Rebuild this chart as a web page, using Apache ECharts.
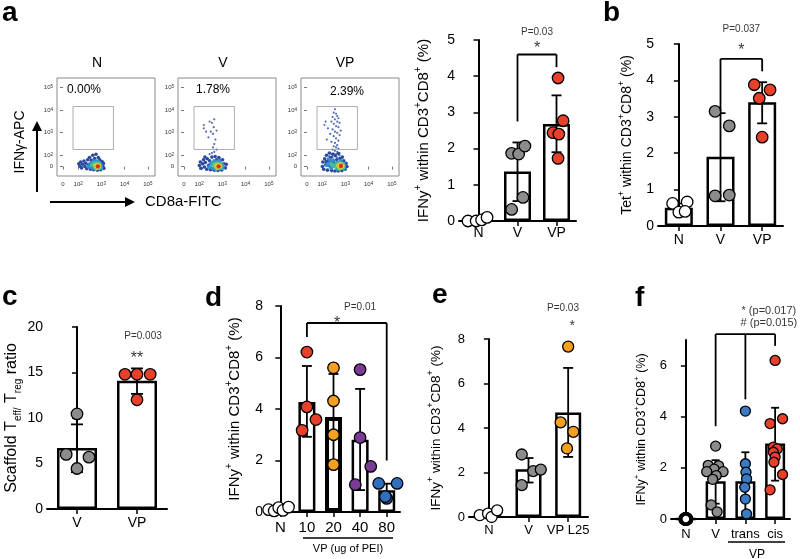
<!DOCTYPE html>
<html><head><meta charset="utf-8">
<script src="https://cdn.jsdelivr.net/npm/echarts@6/dist/echarts.min.js"></script>
<style>html,body{margin:0;padding:0;background:#fff}#chart{width:800px;height:559px}</style>
</head><body><div id="chart"></div>
<script>
const FONT = "'Liberation Sans', Arial, Helvetica, sans-serif";

// ---------------- DATA ----------------
// Panel a (flow): tick positions (transformed log-like scale) and labels
const flowXTicks = [0, 0.65, 1.65, 2.65, 3.65];
const flowYTicks = [0, 0.52, 1.52, 2.52, 3.52];
const flowTickLabels = ['0', '10{s|2}', '10{s|3}', '10{s|4}', '10{s|5}'];
const flowTitles = ['N', 'V', 'VP'];
const flowPct = ['0.00%', '1.78%', '2.39%'];
const flowGate = [0.43, 0.76, 2.17, 2.67]; // x1, y1, x2, y2
// [x, y, densityLevel]
const flowNBlob = [
 [0.68,0.12,0],[0.72,0.02,0],[0.76,0.2,0],[0.8,-0.06,0],[0.84,0.1,0],[0.9,0.25,0],[0.94,0.0,0],[0.98,0.15,0],[1.02,-0.1,0],[1.06,0.3,0],[1.1,0.08,0],[1.14,0.4,0],[1.18,-0.12,0],[1.22,0.28,0],[1.28,0.5,0],[1.32,-0.14,0],[1.36,0.36,0],[1.42,0.55,0],[1.48,-0.16,0],[1.52,0.4,0],[1.58,0.3,0],[1.62,-0.14,0],[1.68,0.22,0],[1.72,0.0,0],[1.76,-0.08,0],[1.74,0.14,0],
 [1.1,0.0,1],[1.18,0.14,1],[1.24,-0.04,1],[1.3,0.2,1],[1.4,0.24,1],[1.5,0.22,1],[1.62,0.08,1],[1.64,-0.04,1],[1.36,-0.08,1],
 [1.26,0.08,2],[1.34,0.12,2],[1.44,0.14,2],[1.56,0.12,2],[1.58,-0.06,2],[1.42,-0.08,2],
 [1.38,0.04,3],[1.48,0.08,3],[1.56,0.02,3],[1.46,-0.06,3],
 [1.46,0.02,4],[1.53,0.03,4],
 [1.5,0.01,5]
];
const flowVBlob = [
 [0.66,0.05,0],[0.7,0.2,0],[0.74,-0.08,0],[0.8,0.12,0],[0.84,0.3,0],[0.88,-0.02,0],[0.92,0.18,0],[0.98,-0.12,0],[1.0,0.35,0],[1.06,0.06,0],[1.1,0.26,0],[1.14,-0.14,0],[1.2,0.42,0],[1.24,0.16,0],[1.3,-0.16,0],[1.34,0.45,0],[1.4,0.3,0],[1.46,-0.17,0],[1.5,0.4,0],[1.56,0.28,0],[1.62,-0.15,0],[1.66,0.3,0],[1.72,0.12,0],[1.78,-0.06,0],[1.82,0.1,0],[0.9,0.42,0],
 [1.08,-0.02,1],[1.16,0.14,1],[1.22,-0.06,1],[1.3,0.24,1],[1.38,0.22,1],[1.52,0.24,1],[1.64,0.1,1],[1.66,-0.06,1],[1.34,-0.1,1],
 [1.24,0.06,2],[1.32,0.12,2],[1.42,0.14,2],[1.56,0.12,2],[1.58,-0.06,2],[1.4,-0.08,2],
 [1.36,0.04,3],[1.46,0.08,3],[1.56,0.02,3],[1.44,-0.06,3],
 [1.45,0.02,4],[1.52,0.03,4],
 [1.49,0.01,5]
];
const flowVPBlob = [
 [0.66,0.0,0],[0.68,0.2,0],[0.72,-0.12,0],[0.76,0.35,0],[0.8,0.08,0],[0.84,0.5,0],[0.88,-0.16,0],[0.9,0.25,0],[0.96,0.6,0],[0.98,0.02,0],[1.02,0.4,0],[1.06,-0.18,0],[1.1,0.55,0],[1.14,0.2,0],[1.2,-0.2,0],[1.22,0.48,0],[1.28,0.3,0],[1.34,-0.2,0],[1.36,0.58,0],[1.42,0.36,0],[1.5,-0.18,0],[1.52,0.42,0],[1.58,0.26,0],[1.64,-0.12,0],[1.68,0.14,0],[1.72,0.0,0],[0.82,0.22,0],[1.0,0.22,0],
 [0.86,0.06,1],[0.94,0.14,1],[1.04,-0.06,1],[1.12,0.28,1],[1.2,0.08,1],[1.3,0.18,1],[1.46,0.24,1],[1.6,0.06,1],[1.3,-0.1,1],[1.0,0.3,1],
 [1.16,0.02,2],[1.26,0.1,2],[1.38,0.14,2],[1.52,0.1,2],[1.56,-0.06,2],[1.36,-0.08,2],[1.06,0.1,2],
 [1.34,0.04,3],[1.44,0.1,3],[1.54,0.02,3],[1.42,-0.06,3],
 [1.42,0.03,4],[1.5,0.02,4],
 [1.46,0.03,5]
];
const flowNGated = [];
const flowVGated = [[0.85,1.85],[0.85,1.7],[1.1,2.0],[1.2,1.95],[1.3,2.1],[1.15,1.55],[1.25,1.45],[1.05,1.3],[1.35,1.2],[1.3,1.0],[1.25,0.85],[1.4,0.75],[1.3,0.65],[1.2,0.6],[1.1,0.55],[0.95,1.55],[1.4,1.6],[1.28,1.75]];
const flowVPGated = [[1.2,2.55],[1.15,2.4],[1.25,2.35],[1.3,2.25],[1.1,2.2],[1.35,2.15],[1.2,2.1],[1.05,2.0],[1.3,2.0],[1.4,1.95],[0.8,2.0],[0.75,1.85],[1.15,1.9],[1.25,1.8],[1.35,1.75],[0.9,1.7],[1.1,1.65],[1.45,1.6],[1.2,1.55],[1.3,1.5],[1.0,1.45],[1.4,1.4],[1.15,1.35],[1.25,1.25],[0.85,1.2],[1.35,1.15],[1.05,1.1],[1.2,1.05],[1.3,0.95],[1.15,0.9],[1.25,0.85],[1.35,0.8],[1.1,0.75],[1.2,0.7],[1.3,0.65],[1.0,0.6],[1.15,0.58],[1.25,0.55],[1.4,0.5],[0.95,0.45],[1.1,0.42],[0.9,0.35],[1.3,0.4]];

// Panel a (bars)
const aCats = ['N', 'V', 'VP'];
const aMeans = [0.03, 1.37, 2.68];
const aErrLow = [0, 0.55, 1.9];
const aErrHigh = [0.06, 2.17, 3.47];
const aPtsN = [[-0.27,0],[-0.06,0],[0.08,0.03],[0.22,0.1]];
const aPtsV = [[-0.15,1.87],[0.03,1.85],[0.19,2.07],[0.14,0.65],[-0.15,0.32]];
const aPtsVP = [[0.04,3.95],[0.17,2.77],[-0.09,2.44],[0.06,2.4],[0.04,1.73]];
const aBracket = [[1,2.75,1,4.6],[1,4.6,2,4.6],[2,4.6,2,4.25]];
const aNotes = [{x:1.5,y:5.22,t:'P=0.03',s:10},{x:1.5,y:4.75,t:'*',s:16}];

// Panel b
const bCats = ['N', 'V', 'VP'];
const bMeans = [0.5, 1.9, 3.4];
const bErrLow = [0.38, 0.68, 2.82];
const bErrHigh = [0.62, 3.1, 3.95];
const bPtsN = [[-0.15,0.62],[0.2,0.66],[0.0,0.38],[0.15,0.4]];
const bPtsV = [[-0.13,3.15],[0.21,2.75],[-0.13,0.83],[0.21,0.85]];
const bPtsVP = [[-0.19,3.88],[0.19,3.74],[-0.07,3.51],[0.0,2.44]];
const bBracket = [[1,3.15,1,4.59],[1,4.59,2,4.59],[2,4.59,2,4.25]];
const bNotes = [{x:1.5,y:5.41,t:'P=0.037',s:10},{x:1.5,y:4.83,t:'*',s:16}];

// Panel c
const cCats = ['V', 'VP'];
const cMeans = [6.7, 14.1];
const cErrLow = [4.05, 12.65];
const cErrHigh = [9.3, 15.45];
const cPtsV = [[-0.18,6.0],[0.2,5.7],[0,4.45],[0,10.45]];
const cPtsVP = [[-0.2,14.8],[0,14.8],[0.22,14.8],[0,12.0]];
const cNotes = [{x:1.1,y:19.0,t:'P=0.003',s:10},{x:1.0,y:16.5,t:'**',s:16}];

// Panel d
const dCats = ['N', '10', '20', '40', '80'];
const dMeans = [0.05, 4.27, 3.69, 2.81, 0.84];
const dErrLow = [0, 2.92, 2.0, 0.85, 0.55];
const dErrHigh = [0.12, 5.67, 5.36, 4.78, 1.1];
const dPtsN = [[-0.44,0.09],[-0.23,0.04],[-0.06,0.17],[0.1,0.06],[0.31,0.19]];
const dPts10 = [[0,6.21],[0,4.08],[0.34,3.59],[-0.18,3.17]];
const dPts20 = [[0,5.6],[0,4.31],[0,3.0],[0,1.84]];
const dPts40 = [[0,5.53],[0,2.89],[0.4,1.77],[-0.18,1.06]];
const dPts80 = [[-0.3,1.11],[0.39,1.11],[0,0.53],[-0.05,0.6]];
const dBracket = [[1,6.8,1,7.34],[1,7.34,4,7.34],[4,7.34,4,2.0]];
const dNotes = [{x:2.14,y:7.3,t:'*',s:16},{x:3.0,y:7.95,t:'P=0.01',s:10}];

// Panel e
const eCats = ['N', 'V', 'VP L25'];
const eMeans = [0.05, 2.15, 4.7];
const eErrLow = [0, 1.55, 2.7];
const eErrHigh = [0.2, 2.65, 6.7];
const ePtsN = [[-0.23,0.08],[-0.02,0.15],[0.07,0],[0.21,0.3]];
const ePtsV = [[-0.17,2.81],[-0.17,1.43],[0.12,2.06],[0.31,2.13]];
const ePtsVP = [[0,7.66],[-0.19,4.25],[0.13,3.83],[-0.03,3.08]];
const eNotes = [{x:1.87,y:9.4,t:'P=0.03',s:10},{x:2.1,y:8.6,t:'*',s:14}];

// Panel f
const fCats = ['N', 'V', 'trans', 'cis'];
const fMeans = [0.0, 1.48, 1.48, 2.95];
const fErrLow = [0, 0.6, 0.3, 1.5];
const fErrHigh = [0, 2.3, 2.61, 4.35];
const fPtsN = [[-0.03,0],[-0.015,0],[0,0],[0.015,0],[0.03,0],[-0.01,0],[0.01,0],[0,0]];
const fPtsV = [[0,2.85],[-0.25,2.1],[0.1,2.08],[-0.05,1.95],[-0.3,1.85],[0.25,1.85],[0.02,1.7],[-0.1,1.55],[-0.15,0.55],[0.05,0.28]];
const fPtsTrans = [[0,4.22],[0,2.16],[0.02,1.83],[0.04,1.57],[-0.02,1.24],[0,0.78],[0.04,0.2]];
const fPtsCis = [[0,6.2],[-0.17,3.73],[0.25,3.92],[-0.06,2.81],[0.07,2.74],[-0.06,2.61],[0,2.42],[-0.04,2.22],[0.25,1.74],[-0.17,1.14]];
const fBracket = [[1,3.63,1,7.23],[1,7.23,3,7.23],[2,4.68,2,7.23],[3,6.77,3,7.23]];
const fNotes = [{x:2.79,y:8.13,t:'* (p=0.017)',s:11},{x:2.79,y:7.66,t:'# (p=0.015)',s:11}];

// ---------------- STYLE ----------------
const C = {white:'#ffffff', grey:'#8c8c8c', red:'#e8402a', orange:'#f5a01f', purple:'#7a3b97', blue:'#3a7cc4', blue2:'#2f6fbf'};
const flowColors = ['#2a4aa0','#3b8bd0','#3fbf9a','#a6d33b','#f2d51f','#e8281c'];
const flowSizes = [3.6, 4.2, 4.6, 4.6, 4.6, 4.4];

const grid = [], xAxis = [], yAxis = [], series = [];

function segSeries(xi, yi, segs, lw, color) {
  return {type:'custom', xAxisIndex:xi, yAxisIndex:yi, z:5, silent:true, clip:false,
    data: segs,
    renderItem:(p, api) => {
      const a = api.coord([api.value(0), api.value(1)]);
      const b = api.coord([api.value(2), api.value(3)]);
      return {type:'line', shape:{x1:a[0], y1:a[1], x2:b[0], y2:b[1]}, style:{stroke:color || '#000', lineWidth:lw}};
    }};
}
function notesSeries(xi, yi, notes) {
  return {type:'scatter', xAxisIndex:xi, yAxisIndex:yi, z:6, silent:true, clip:false, symbolSize:1,
    itemStyle:{color:'transparent'},
    data: notes.map(n => ({value:[n.x, n.y], name:n.t, label:{fontSize:n.s}})),
    label:{show:true, position:'inside', formatter:'{b}', color:'#000', fontFamily:FONT}};
}

function barPanel(p) {
  const gi = grid.length;
  grid.push({left:p.left, top:p.top, width:p.width, height:p.height, containLabel:false, outerBoundsMode:'none'});
  const xc = xAxis.length;
  xAxis.push({type:'category', gridIndex:gi, data:p.cats,
    axisLine:{show:true, lineStyle:{color:'#000', width:2}},
    axisTick:{show:true, alignWithLabel:true, length:5, lineStyle:{color:'#000', width:1.5}},
    axisLabel:{fontFamily:FONT, fontSize:p.xFont, color:'#000', margin:p.xMargin, interval:0}});
  const xv = xAxis.length;
  xAxis.push({type:'value', gridIndex:gi, min:-0.5, max:p.cats.length - 0.5, show:false});
  const yi = yAxis.length;
  const yax = {type:'value', gridIndex:gi, min:0, max:p.ymax, interval:p.yint,
    name:p.yname, nameLocation:'middle', nameGap:p.nameGap, nameRotate:90,
    nameTextStyle:{fontFamily:FONT, fontSize:p.nameFont, color:'#000', lineHeight:p.nameFont + 6,
      rich:{sup:{fontSize:Math.round(p.nameFont*0.65), fontFamily:FONT, color:'#000', verticalAlign:'top'},
            sub:{fontSize:Math.round(p.nameFont*0.65), fontFamily:FONT, color:'#000', verticalAlign:'bottom'}}},
    splitLine:{show:false},
    axisLine:{show:true, lineStyle:{color:'#000', width:2}},
    axisTick:{show:true, length:5, lineStyle:{color:'#000', width:1.5}},
    axisLabel:{fontFamily:FONT, fontSize:p.yFont, color:'#000', margin:4}};
  if (p.yTicks) { yax.axisTick.customValues = p.yTicks; yax.axisLabel.customValues = p.yTicks; }
  yAxis.push(yax);
  series.push({type:'bar', xAxisIndex:xc, yAxisIndex:yi, barWidth:p.barWidth, z:2, silent:true,
    itemStyle:{color:'#fff', borderColor:'#000', borderWidth:2.5},
    data:p.means.map((v, i) => ({value:v, itemStyle:{borderWidth: p.boldIndex === i ? 4 : 2.5}}))});
  series.push({type:'custom', xAxisIndex:xv, yAxisIndex:yi, z:3, silent:true, clip:false,
    data:p.lo.map((l, i) => [i, l, p.hi[i]]),
    renderItem:(prm, api) => {
      const x = api.value(0);
      const a = api.coord([x, api.value(1)]), b = api.coord([x, api.value(2)]);
      const cap = p.cap;
      return {type:'group', children:[
        {type:'line', shape:{x1:a[0], y1:a[1], x2:b[0], y2:b[1]}, style:{stroke:'#000', lineWidth:1.8}},
        {type:'line', shape:{x1:b[0]-cap, y1:b[1], x2:b[0]+cap, y2:b[1]}, style:{stroke:'#000', lineWidth:1.8}},
        {type:'line', shape:{x1:a[0]-cap, y1:a[1], x2:a[0]+cap, y2:a[1]}, style:{stroke:'#000', lineWidth:1.8}}]};
    }});
  p.groups.forEach((g, i) => {
    series.push({type:'scatter', xAxisIndex:xv, yAxisIndex:yi, z:4, silent:true, clip:false,
      symbolSize:g.size || p.sym, itemStyle:{color:g.color, borderColor:'#000', borderWidth:g.bw || 1.3, opacity:1},
      data:g.pts.map(q => [i + q[0], q[1]])});
  });
  if (p.bracket) series.push(segSeries(xv, yi, p.bracket, 1.8));
  if (p.notes) series.push(notesSeries(xv, yi, p.notes));
}

function flowPanel(left, blob, gated) {
  const gi = grid.length;
  grid.push({left:left, top:78, width:98, height:98, show:true, borderColor:'#8a8a8a', borderWidth:1,
    backgroundColor:'transparent', containLabel:false, outerBoundsMode:'none'});
  const mk = (ticks, isX) => ({
    type:'value', gridIndex:gi, min: isX ? -0.26 : -0.42, max: isX ? 3.96 : 3.94,
    splitLine:{show:false}, axisLine:{show:false},
    axisTick:{show:true, length:3, customValues:ticks, lineStyle:{color:'#777', width:1}},
    axisLabel:{show:true, customValues:ticks, fontFamily:FONT, fontSize:6, color:'#333', margin:isX ? 5 : 4,
      formatter:(v) => { let bi = 0; ticks.forEach((t, k) => { if (Math.abs(t - v) < Math.abs(ticks[bi] - v)) bi = k; }); return flowTickLabels[bi]; },
      rich:{s:{fontSize:4.5, fontFamily:FONT, color:'#333', verticalAlign:'top'}}}
  });
  const xi = xAxis.length; xAxis.push(mk(flowXTicks, true));
  const yi = yAxis.length; yAxis.push(mk(flowYTicks, false));
  for (let lv = 0; lv < flowColors.length; lv++) {
    series.push({type:'scatter', xAxisIndex:xi, yAxisIndex:yi, z:3 + lv * 0.1, silent:true,
      symbolSize:flowSizes[lv], itemStyle:{color:flowColors[lv], opacity:1},
      data: blob.filter(q => q[2] === lv).map(q => [q[0], q[1]])});
  }
  series.push({type:'scatter', xAxisIndex:xi, yAxisIndex:yi, z:3, silent:true, symbolSize:2.2,
    itemStyle:{color:flowColors[0]}, data:gated});
  const g = flowGate;
  series.push(segSeries(xi, yi, [[g[0],g[1],g[2],g[1]],[g[2],g[1],g[2],g[3]],[g[2],g[3],g[0],g[3]],[g[0],g[3],g[0],g[1]]], 0.8, '#9a9a9a'));
}

flowPanel(57, flowNBlob, flowNGated);
flowPanel(178, flowVBlob, flowVGated);
flowPanel(301, flowVPBlob, flowVPGated);

const IFN = 'IFNy{sup|+} within CD3{sup|+}CD8{sup|+} (%)';
barPanel({left:459, top:40, width:117, height:181, cats:aCats, means:aMeans, lo:aErrLow, hi:aErrHigh,
  ymax:5, yint:1, yname:IFN, nameGap:25, nameFont:15, yFont:14, xFont:14, xMargin:5, barWidth:27, cap:5, sym:11.5,
  groups:[{color:C.white, pts:aPtsN},{color:C.grey, pts:aPtsV},{color:C.red, pts:aPtsVP}], bracket:aBracket, notes:aNotes});
barPanel({left:658, top:44, width:125, height:182, cats:bCats, means:bMeans, lo:bErrLow, hi:bErrHigh,
  ymax:5, yint:1, yname:'Tet{sup|+} within CD3{sup|+}CD8{sup|+} (%)', nameGap:21, nameFont:14, yFont:14, xFont:14, xMargin:7, barWidth:28, cap:5, sym:11.5,
  groups:[{color:C.white, pts:bPtsN},{color:C.grey, pts:bPtsV},{color:C.red, pts:bPtsVP}], bracket:bBracket, notes:bNotes});
barPanel({left:47, top:327, width:120, height:182, cats:cCats, means:cMeans, lo:cErrLow, hi:cErrHigh,
  ymax:20, yint:5, yname:'Scaffold T{sub|eff/} T{sub|reg} ratio', nameGap:24, nameFont:16, yFont:14, xFont:14, xMargin:7, barWidth:40, cap:6, sym:11.5,
  groups:[{color:C.grey, pts:cPtsV},{color:C.red, pts:cPtsVP}], notes:cNotes});
barPanel({left:267, top:306, width:133, height:206, cats:dCats, means:dMeans, lo:dErrLow, hi:dErrHigh,
  ymax:8, yint:2, yname:IFN, nameGap:22, nameFont:15, yFont:14, xFont:15, xMargin:8, barWidth:17, cap:5, sym:11.5, boldIndex:2,
  groups:[{color:C.white, pts:dPtsN},{color:C.red, pts:dPts10},{color:C.orange, pts:dPts20},{color:C.purple, pts:dPts40},{color:C.blue2, pts:dPts80}], bracket:dBracket, notes:dNotes});
barPanel({left:469, top:339, width:119, height:178, cats:eCats, means:eMeans, lo:eErrLow, hi:eErrHigh,
  ymax:8, yint:2, yname:IFN, nameGap:23, nameFont:13.5, yFont:13, xFont:13, xMargin:7, barWidth:26, cap:5, sym:11,
  groups:[{color:C.white, pts:ePtsN},{color:C.grey, pts:ePtsV},{color:C.orange, pts:ePtsVP}], notes:eNotes});
barPanel({left:671, top:340, width:119, height:179, cats:fCats, means:fMeans, lo:fErrLow, hi:fErrHigh,
  ymax:7, yint:1, yTicks:[0,2,4,6], yname:IFN, nameGap:20, nameFont:12.5, yFont:13, xFont:13, xMargin:9, barWidth:20, cap:4, sym:10,
  groups:[{color:C.white, pts:fPtsN, size:10, bw:3.5},{color:C.grey, pts:fPtsV},{color:C.blue, pts:fPtsTrans},{color:C.red, pts:fPtsCis}], bracket:fBracket, notes:fNotes});

const T = (x, y, text, size, opts) => Object.assign({type:'text', x:x, y:y, silent:true,
  style:Object.assign({text:text, fill:'#000', font:size + 'px ' + FONT, textAlign:'center', textVerticalAlign:'middle', align:'center', verticalAlign:'middle'}, opts || {})});
const B = (x, y, t) => T(x, y, t, 28, {font:'bold 28px ' + FONT, textAlign:'left', align:'left'});
const graphic = [
  B(2, 13, 'a'), B(603, 13, 'b'), B(2, 297, 'c'), B(205, 298, 'd'), B(432, 295, 'e'), B(635, 298, 'f'),
  T(97, 63, flowTitles[0], 14), T(223, 63, flowTitles[1], 14), T(345, 63, flowTitles[2], 14),
  T(84, 90, flowPct[0], 12), T(213, 90, flowPct[1], 12), T(347, 92, flowPct[2], 12),
  {type:'line', silent:true, shape:{x1:37, y1:192, x2:37, y2:129}, style:{stroke:'#000', lineWidth:2}},
  {type:'polygon', silent:true, shape:{points:[[37,121],[32,131],[42,131]]}, style:{fill:'#000'}},
  {type:'line', silent:true, shape:{x1:50, y1:202, x2:127, y2:202}, style:{stroke:'#000', lineWidth:2}},
  {type:'polygon', silent:true, shape:{points:[[135,202],[125,197],[125,207]]}, style:{fill:'#000'}},
  Object.assign(T(0, 0, 'IFNγ-APC', 14), {x:20, y:142, rotation:Math.PI/2}),
  T(145, 202, 'CD8a-FITC', 15, {textAlign:'left', align:'left'}),
  {type:'line', silent:true, shape:{x1:303, y1:538, x2:393, y2:538}, style:{stroke:'#000', lineWidth:1.5}},
  T(348, 549, 'VP (ug of PEI)', 11),
  {type:'line', silent:true, shape:{x1:728, y1:542, x2:785, y2:542}, style:{stroke:'#000', lineWidth:1.5}},
  T(757, 555, 'VP', 12)
];

const chart = echarts.init(document.getElementById('chart'), null, {renderer:'canvas'});
chart.setOption({animation:false, backgroundColor:'#fff', textStyle:{fontFamily:FONT},
  grid:grid, xAxis:xAxis, yAxis:yAxis, series:series, graphic:graphic});
</script></body></html>
